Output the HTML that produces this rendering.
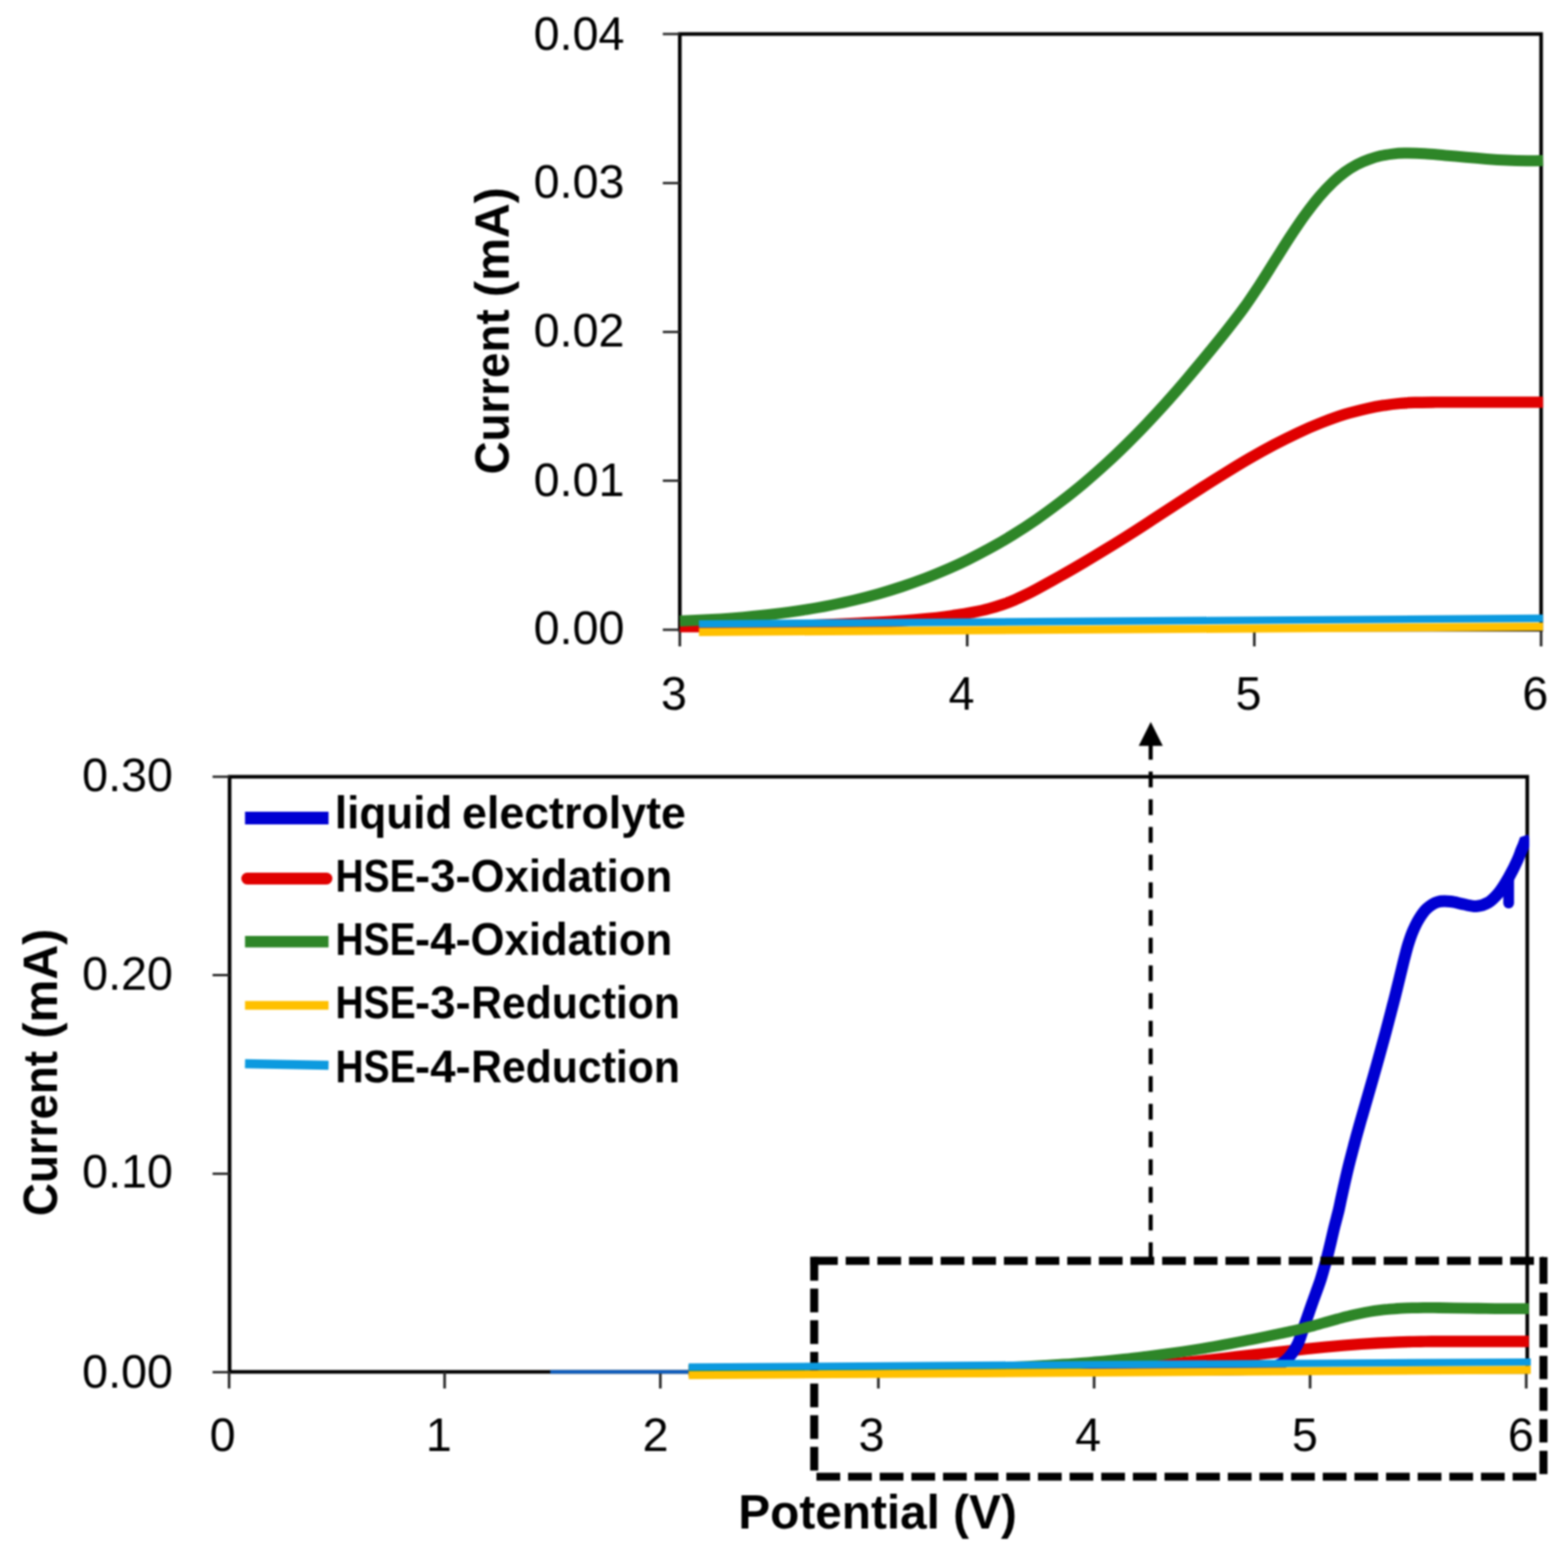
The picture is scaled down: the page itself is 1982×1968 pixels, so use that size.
<!DOCTYPE html>
<html lang="en"><head><meta charset="utf-8"><title>Linear sweep voltammetry of liquid electrolyte and HSE</title>
<style>
html,body{margin:0;padding:0;background:#fff;}
body{width:1982px;height:1968px;overflow:hidden;}
svg{display:block;}
text{font-family:"Liberation Sans",sans-serif;fill:#000;}
.n{font-size:59px;}
.b{font-size:62px;font-weight:bold;}
.l{font-size:56.5px;font-weight:bold;}
.ln{fill:none;stroke-linecap:butt;}
</style></head><body>
<svg width="1982" height="1968" viewBox="0 0 1982 1968">
<defs><filter id="soft" x="0" y="0" width="100%" height="100%" filterUnits="objectBoundingBox" color-interpolation-filters="sRGB"><feGaussianBlur stdDeviation="0.9"/></filter></defs>
<rect x="0" y="0" width="1982" height="1968" fill="#ffffff"/>
<g filter="url(#soft)">
<rect x="0" y="0" width="1982" height="1968" fill="#ffffff"/>
<g id="top">
<clipPath id="ct"><rect x="857.3" y="23.0" width="1093.3" height="813.0"/></clipPath>
<rect x="859.3" y="43.0" width="1088.7" height="753.0" fill="none" stroke="#000000" stroke-width="4.6"/>
<line x1="837.8" y1="43.0" x2="859.3" y2="43.0" stroke="#262626" stroke-width="3"/>
<line x1="837.8" y1="231.4" x2="859.3" y2="231.4" stroke="#262626" stroke-width="3"/>
<line x1="837.8" y1="419.6" x2="859.3" y2="419.6" stroke="#262626" stroke-width="3"/>
<line x1="837.8" y1="607.6" x2="859.3" y2="607.6" stroke="#262626" stroke-width="3"/>
<line x1="837.8" y1="796.0" x2="859.3" y2="796.0" stroke="#262626" stroke-width="3"/>
<line x1="859.3" y1="796.0" x2="859.3" y2="817.0" stroke="#262626" stroke-width="3.3"/>
<line x1="1222.6" y1="796.0" x2="1222.6" y2="817.0" stroke="#262626" stroke-width="3.3"/>
<line x1="1585.5" y1="796.0" x2="1585.5" y2="817.0" stroke="#262626" stroke-width="3.3"/>
<line x1="1948.0" y1="796.0" x2="1948.0" y2="817.0" stroke="#262626" stroke-width="3.3"/>
<path class="ln" d="M859.3,792.1C874.4,792.0 926.5,792.0 950.0,791.8C973.5,791.6 985.0,791.3 1000.0,791.0C1015.0,790.7 1026.7,790.3 1040.0,789.8C1053.3,789.3 1064.7,788.8 1080.0,788.0C1095.3,787.2 1114.7,786.4 1132.0,785.2C1149.3,784.0 1171.5,782.0 1184.0,780.8C1196.5,779.5 1199.3,778.9 1207.0,777.7C1214.7,776.6 1222.8,775.3 1230.0,773.9C1237.2,772.5 1243.7,771.1 1250.0,769.4C1256.3,767.7 1262.5,765.8 1268.0,763.9C1273.5,762.0 1278.2,760.2 1283.0,758.1C1287.8,756.0 1292.5,753.7 1297.0,751.5C1301.5,749.3 1302.8,748.7 1310.0,744.8C1317.2,740.9 1330.0,733.9 1340.0,728.3C1350.0,722.7 1360.0,716.9 1370.0,711.0C1380.0,705.1 1390.0,699.0 1400.0,692.9C1410.0,686.8 1420.0,680.6 1430.0,674.2C1440.0,667.9 1450.0,661.3 1460.0,654.8C1470.0,648.3 1480.0,641.8 1490.0,635.3C1500.0,628.8 1510.0,622.3 1520.0,615.9C1530.0,609.5 1540.0,603.2 1550.0,597.1C1560.0,591.0 1570.0,584.9 1580.0,579.1C1590.0,573.3 1600.0,567.7 1610.0,562.4C1620.0,557.1 1630.0,552.1 1640.0,547.4C1650.0,542.7 1660.0,538.3 1670.0,534.4C1680.0,530.5 1690.0,526.8 1700.0,523.7C1710.0,520.6 1721.7,517.8 1730.0,515.9C1738.3,514.0 1743.3,513.3 1750.0,512.3C1756.7,511.3 1763.7,510.5 1770.0,509.9C1776.3,509.3 1780.5,509.1 1788.0,508.8C1795.5,508.6 1806.3,508.5 1815.0,508.4C1823.7,508.3 1825.8,508.4 1840.0,508.4C1854.2,508.4 1881.6,508.4 1900.0,508.4C1918.4,508.4 1942.1,508.4 1950.5,508.4" stroke="#e00000" stroke-width="14.4" stroke-linejoin="round"/>
<path class="ln" d="M859.3,785.1C866.1,784.8 886.5,783.8 900.0,783.0C913.5,782.2 926.7,781.3 940.0,780.1C953.3,778.9 966.7,777.6 980.0,776.0C993.3,774.4 1008.3,772.2 1020.0,770.4C1031.7,768.6 1040.0,767.0 1050.0,765.0C1060.0,763.0 1070.0,760.9 1080.0,758.5C1090.0,756.1 1100.0,753.5 1110.0,750.7C1120.0,747.9 1130.0,744.8 1140.0,741.5C1150.0,738.2 1160.0,734.6 1170.0,730.8C1180.0,726.9 1191.2,722.2 1200.0,718.4C1208.8,714.5 1214.7,711.8 1223.0,707.7C1231.3,703.6 1240.5,698.9 1250.0,693.7C1259.5,688.5 1270.0,682.5 1280.0,676.3C1290.0,670.1 1300.0,663.6 1310.0,656.7C1320.0,649.8 1330.0,642.4 1340.0,634.8C1350.0,627.1 1360.0,619.2 1370.0,610.8C1380.0,602.4 1390.8,592.8 1400.0,584.4C1409.2,576.0 1416.7,568.7 1425.0,560.5C1433.3,552.3 1441.7,543.8 1450.0,535.0C1458.3,526.2 1466.7,517.2 1475.0,507.9C1483.3,498.6 1491.7,489.0 1500.0,479.2C1508.3,469.4 1516.7,459.4 1525.0,449.3C1533.3,439.2 1542.2,428.3 1550.0,418.4C1557.8,408.5 1565.0,399.4 1572.0,389.7C1579.0,380.0 1585.3,370.4 1592.0,360.3C1598.7,350.2 1605.5,339.0 1612.0,328.8C1618.5,318.6 1624.7,308.5 1631.0,298.9C1637.3,289.3 1643.8,279.6 1650.0,271.1C1656.2,262.6 1662.2,254.9 1668.0,248.1C1673.8,241.3 1679.7,235.2 1685.0,230.1C1690.3,225.0 1695.0,221.2 1700.0,217.5C1705.0,213.8 1710.0,210.8 1715.0,208.1C1720.0,205.4 1725.0,203.4 1730.0,201.6C1735.0,199.8 1740.0,198.2 1745.0,197.0C1750.0,195.8 1755.0,195.2 1760.0,194.6C1765.0,194.0 1768.2,193.7 1775.0,193.6C1781.8,193.5 1792.3,193.7 1801.0,194.2C1809.7,194.7 1818.3,195.7 1827.0,196.4C1835.7,197.2 1844.3,197.9 1853.0,198.7C1861.7,199.4 1870.3,200.2 1879.0,200.9C1887.7,201.6 1896.3,202.2 1905.0,202.6C1913.7,203.0 1923.4,203.2 1931.0,203.3C1938.6,203.4 1947.2,203.1 1950.5,203.0" stroke="#2e8628" stroke-width="14.0" stroke-linejoin="round"/>
<path class="ln" d="M883.5,798.9L1950.5,792.0" stroke="#ffc000" stroke-width="10.2" stroke-linejoin="round"/>
<path class="ln" d="M883.5,788.6L1950.5,781.5" stroke="#0c9adf" stroke-width="9.4" stroke-linejoin="round"/>
<text class="n" x="789.3" y="62.6" text-anchor="end">0.04</text>
<text class="n" x="789.3" y="250.4" text-anchor="end">0.03</text>
<text class="n" x="789.3" y="438.3" text-anchor="end">0.02</text>
<text class="n" x="789.3" y="626.8" text-anchor="end">0.01</text>
<text class="n" x="789.3" y="813.9" text-anchor="end">0.00</text>
<text class="n" x="852.0" y="896.8" text-anchor="middle">3</text>
<text class="n" x="1215.3" y="896.8" text-anchor="middle">4</text>
<text class="n" x="1578.2" y="896.8" text-anchor="middle">5</text>
<text class="n" x="1940.7" y="896.8" text-anchor="middle">6</text>
<text class="b" transform="translate(642.8,597.0) rotate(-90)" xml:space="preserve"><tspan x="-2.6" textLength="224.5" lengthAdjust="spacingAndGlyphs">Current </tspan><tspan x="221.6" textLength="138.8" lengthAdjust="spacingAndGlyphs">(mA)</tspan></text>
</g>
<g id="bottom">
<clipPath id="cb"><rect x="288.2" y="961.8" width="1644.9" height="812.2"/></clipPath>
<rect x="290.2" y="981.8" width="1640.3" height="752.2" fill="none" stroke="#000000" stroke-width="4.6"/>
<line x1="268.7" y1="981.8" x2="290.2" y2="981.8" stroke="#262626" stroke-width="3"/>
<line x1="268.7" y1="1232.5" x2="290.2" y2="1232.5" stroke="#262626" stroke-width="3"/>
<line x1="268.7" y1="1483.6" x2="290.2" y2="1483.6" stroke="#262626" stroke-width="3"/>
<line x1="268.7" y1="1734.4" x2="290.2" y2="1734.4" stroke="#262626" stroke-width="3"/>
<line x1="289.6" y1="1734.0" x2="289.6" y2="1755.0" stroke="#262626" stroke-width="3.3"/>
<line x1="562.0" y1="1734.0" x2="562.0" y2="1755.0" stroke="#262626" stroke-width="3.3"/>
<line x1="834.7" y1="1734.0" x2="834.7" y2="1755.0" stroke="#262626" stroke-width="3.3"/>
<line x1="1110.3" y1="1734.0" x2="1110.3" y2="1755.0" stroke="#262626" stroke-width="3.3"/>
<line x1="1383.0" y1="1734.0" x2="1383.0" y2="1755.0" stroke="#262626" stroke-width="3.3"/>
<line x1="1656.0" y1="1734.0" x2="1656.0" y2="1755.0" stroke="#262626" stroke-width="3.3"/>
<line x1="1929.2" y1="1734.0" x2="1929.2" y2="1755.0" stroke="#262626" stroke-width="3.3"/>
<line x1="695.6" y1="1734" x2="871.2" y2="1734" stroke="#0d5cbd" stroke-width="4.6"/>
<g clip-path="url(#cb)">
<path class="ln" d="M870.5,1732.8C892.1,1732.8 960.1,1732.6 1000.0,1732.7C1039.9,1732.8 1080.3,1733.2 1110.0,1733.3C1139.7,1733.4 1160.7,1733.3 1178.3,1733.2C1196.0,1733.2 1204.7,1733.2 1216.0,1733.1C1227.3,1733.1 1236.1,1733.0 1246.1,1733.0C1256.1,1732.9 1264.7,1732.8 1276.2,1732.7C1287.8,1732.6 1302.3,1732.5 1315.4,1732.4C1328.5,1732.2 1345.1,1731.9 1354.6,1731.8C1364.0,1731.6 1366.1,1731.5 1371.9,1731.4C1377.7,1731.2 1383.8,1731.0 1389.2,1730.9C1394.6,1730.7 1399.5,1730.5 1404.3,1730.3C1409.0,1730.0 1413.7,1729.8 1417.8,1729.5C1422.0,1729.3 1425.5,1729.0 1429.1,1728.8C1432.8,1728.5 1436.3,1728.2 1439.7,1727.9C1443.1,1727.6 1444.1,1727.5 1449.5,1727.0C1454.9,1726.5 1464.5,1725.5 1472.1,1724.8C1479.6,1724.0 1487.1,1723.3 1494.7,1722.5C1502.2,1721.7 1509.7,1720.9 1517.3,1720.1C1524.8,1719.2 1532.3,1718.4 1539.9,1717.6C1547.4,1716.7 1554.9,1715.9 1562.4,1715.0C1570.0,1714.1 1577.5,1713.3 1585.0,1712.4C1592.6,1711.5 1600.1,1710.7 1607.6,1709.8C1615.2,1709.0 1622.7,1708.1 1630.2,1707.3C1637.8,1706.5 1645.3,1705.7 1652.8,1704.9C1660.4,1704.1 1667.9,1703.4 1675.4,1702.7C1683.0,1702.0 1690.5,1701.3 1698.0,1700.7C1705.6,1700.1 1713.1,1699.5 1720.6,1698.9C1728.2,1698.4 1735.7,1697.9 1743.2,1697.5C1750.7,1697.1 1759.5,1696.7 1765.8,1696.5C1772.1,1696.2 1775.9,1696.1 1780.9,1696.0C1785.9,1695.9 1791.2,1695.8 1795.9,1695.7C1800.7,1695.6 1803.8,1695.6 1809.5,1695.5C1815.1,1695.5 1823.3,1695.5 1829.8,1695.5C1836.4,1695.5 1838.0,1695.5 1848.7,1695.5C1859.3,1695.5 1879.9,1695.5 1893.9,1695.5C1907.8,1695.5 1926.1,1695.5 1932.6,1695.5" stroke="#e00000" stroke-width="14.4" stroke-linejoin="round"/>
<path class="ln" d="M1100.0,1732.0C1150.0,1731.9 1326.7,1731.7 1400.0,1731.5C1473.3,1731.3 1509.2,1731.2 1540.0,1731.0C1570.8,1730.8 1574.5,1730.7 1585.0,1730.3C1595.5,1729.9 1598.0,1729.5 1603.0,1728.8C1608.0,1728.0 1611.4,1727.2 1615.0,1725.8C1618.6,1724.4 1621.5,1722.8 1624.5,1720.3C1627.5,1717.8 1630.5,1714.4 1633.2,1710.7C1635.9,1707.0 1638.5,1703.0 1640.7,1698.2C1642.9,1693.4 1644.5,1687.5 1646.5,1682.0C1648.5,1676.5 1650.3,1671.2 1652.5,1665.0C1654.7,1658.8 1656.8,1652.5 1659.5,1645.0C1662.2,1637.5 1666.2,1626.7 1668.5,1620.0C1670.8,1613.3 1671.5,1610.0 1673.0,1605.0C1674.5,1600.0 1675.8,1595.8 1677.3,1590.0C1678.8,1584.2 1680.6,1576.7 1682.2,1570.0C1683.8,1563.3 1685.2,1556.7 1686.9,1550.0C1688.6,1543.3 1690.6,1536.0 1692.1,1529.9C1693.5,1523.8 1694.4,1519.0 1695.6,1513.6C1696.8,1508.2 1698.0,1502.8 1699.2,1497.4C1700.4,1492.0 1701.6,1486.6 1702.9,1481.2C1704.2,1475.8 1705.5,1470.4 1706.9,1465.1C1708.3,1459.8 1709.7,1454.4 1711.1,1449.1C1712.5,1443.8 1713.9,1438.3 1715.4,1433.0C1716.9,1427.7 1718.4,1422.3 1719.9,1417.0C1721.4,1411.7 1723.0,1406.4 1724.5,1401.1C1726.0,1395.8 1727.6,1390.4 1729.1,1385.1C1730.6,1379.8 1732.2,1374.5 1733.7,1369.2C1735.2,1363.9 1736.7,1358.5 1738.2,1353.2C1739.7,1347.9 1741.2,1342.5 1742.7,1337.2C1744.2,1331.9 1745.6,1326.5 1747.1,1321.2C1748.6,1315.9 1750.1,1310.6 1751.5,1305.2C1752.9,1299.8 1754.3,1294.5 1755.7,1289.1C1757.1,1283.7 1758.5,1278.4 1759.9,1273.0C1761.3,1267.6 1762.7,1262.3 1764.0,1256.9C1765.3,1251.5 1766.7,1246.2 1768.0,1240.8C1769.3,1235.4 1770.6,1230.1 1771.9,1224.7C1773.2,1219.3 1774.5,1213.9 1775.9,1208.6C1777.3,1203.2 1778.6,1197.9 1780.3,1192.6C1782.0,1187.3 1783.7,1182.1 1785.9,1177.0C1788.1,1171.9 1790.4,1166.8 1793.3,1162.1C1796.2,1157.4 1799.2,1152.5 1803.2,1148.8C1807.2,1145.1 1812.0,1141.6 1817.1,1140.1C1822.2,1138.5 1828.1,1139.0 1833.6,1139.5C1839.0,1140.0 1844.4,1141.9 1849.8,1142.9C1855.2,1143.9 1860.9,1145.9 1866.2,1145.5C1871.5,1145.1 1877.2,1143.2 1881.8,1140.5C1886.4,1137.8 1890.3,1133.4 1893.9,1129.2C1897.5,1125.0 1900.4,1120.2 1903.3,1115.5C1906.2,1110.8 1908.9,1105.9 1911.4,1101.0C1914.0,1096.1 1916.8,1090.0 1918.6,1086.1C1920.4,1082.2 1920.9,1080.3 1922.0,1077.5C1923.1,1074.7 1924.8,1070.8 1925.3,1069.5" stroke="#0000d2" stroke-width="15.0" stroke-linejoin="round"/>
<path class="ln" d="M1922.0,1077.5L1925.3,1069.5L1927.2,1064.2L1934.0,1062.0" stroke="#0000d2" stroke-width="15.0" stroke-linejoin="miter"/>
<line x1="1907" y1="1110" x2="1907" y2="1141.4" stroke="#0000d2" stroke-width="13.6" stroke-linecap="round"/>
<path class="ln" d="M870.5,1731.9C892.1,1731.9 960.1,1731.8 1000.0,1731.8C1039.9,1731.8 1086.6,1731.8 1110.0,1731.7C1133.4,1731.7 1130.5,1731.6 1140.7,1731.5C1150.8,1731.4 1160.7,1731.2 1170.8,1731.1C1180.8,1730.9 1190.9,1730.8 1200.9,1730.5C1211.0,1730.3 1222.3,1730.0 1231.0,1729.8C1239.8,1729.5 1246.1,1729.3 1253.6,1729.1C1261.2,1728.8 1268.7,1728.5 1276.2,1728.2C1283.8,1727.9 1291.3,1727.5 1298.8,1727.2C1306.4,1726.8 1313.9,1726.4 1321.4,1725.9C1329.0,1725.5 1336.5,1725.0 1344.0,1724.5C1351.6,1724.0 1360.0,1723.4 1366.6,1722.9C1373.3,1722.3 1377.7,1722.0 1383.9,1721.4C1390.2,1720.9 1397.1,1720.3 1404.3,1719.6C1411.4,1718.9 1419.3,1718.1 1426.9,1717.3C1434.4,1716.4 1441.9,1715.6 1449.5,1714.6C1457.0,1713.7 1464.5,1712.7 1472.1,1711.7C1479.6,1710.7 1487.1,1709.6 1494.7,1708.5C1502.2,1707.4 1510.4,1706.1 1517.3,1705.0C1524.2,1703.9 1529.8,1702.9 1536.1,1701.8C1542.4,1700.7 1548.6,1699.6 1554.9,1698.4C1561.2,1697.3 1567.5,1696.1 1573.7,1694.8C1580.0,1693.6 1586.3,1692.3 1592.6,1691.0C1598.9,1689.7 1605.1,1688.4 1611.4,1687.0C1617.7,1685.7 1624.3,1684.2 1630.2,1682.9C1636.1,1681.6 1641.5,1680.4 1646.8,1679.1C1652.1,1677.8 1656.8,1676.5 1661.9,1675.2C1666.9,1673.8 1672.0,1672.3 1676.9,1671.0C1681.8,1669.6 1686.5,1668.3 1691.2,1667.0C1696.0,1665.7 1700.9,1664.4 1705.6,1663.3C1710.2,1662.1 1714.7,1661.1 1719.1,1660.2C1723.5,1659.3 1727.9,1658.5 1731.9,1657.8C1735.9,1657.1 1739.4,1656.6 1743.2,1656.1C1747.0,1655.6 1750.7,1655.2 1754.5,1654.9C1758.3,1654.5 1762.0,1654.3 1765.8,1654.0C1769.6,1653.8 1773.3,1653.6 1777.1,1653.4C1780.9,1653.2 1784.6,1653.2 1788.4,1653.1C1792.2,1653.0 1794.6,1653.0 1799.7,1652.9C1804.9,1652.9 1812.8,1653.0 1819.3,1653.0C1825.8,1653.1 1832.3,1653.2 1838.9,1653.3C1845.4,1653.4 1851.9,1653.5 1858.5,1653.6C1865.0,1653.7 1871.5,1653.8 1878.0,1653.9C1884.6,1654.0 1891.1,1654.1 1897.6,1654.1C1904.1,1654.2 1911.4,1654.2 1917.2,1654.2C1923.0,1654.2 1930.0,1654.2 1932.6,1654.2" stroke="#2e8628" stroke-width="13.8" stroke-linejoin="round"/>
</g>
<g stroke="#000" stroke-width="10.2" fill="none">
<path d="M1029,1593.7H1951" stroke-dasharray="30 10"/>
<path d="M1024.2,1593.7H1030"/>
<path d="M1951,1588.9V1622.8"/>
<path d="M1951,1633.7V1866" stroke-dasharray="29.6 10.4"/>
<path d="M1032,1866.5H1945" stroke-dasharray="30 10"/>
<path d="M1029.2,1588.7V1860" stroke-dasharray="30 10"/>
</g>
<line x1="1454.5" y1="1590.3" x2="1454.5" y2="940" stroke="#000" stroke-width="5.2" stroke-dasharray="20 15"/>
<path d="M1454.6,912.5L1469.8,942.8L1439.4,942.8Z" fill="#000"/>
<path class="ln" d="M870.5,1738.2L1935.0,1731.4" stroke="#ffc000" stroke-width="10.1" stroke-linejoin="round"/>
<path class="ln" d="M870.5,1727.9L1935.0,1721.5" stroke="#0c9adf" stroke-width="9.2" stroke-linejoin="round"/>
<text class="n" x="218.7" y="999.8" text-anchor="end">0.30</text>
<text class="n" x="218.7" y="1250.5" text-anchor="end">0.20</text>
<text class="n" x="218.7" y="1500.6" text-anchor="end">0.10</text>
<text class="n" x="218.7" y="1753.7" text-anchor="end">0.00</text>
<text class="n" x="281.3" y="1834" text-anchor="middle">0</text>
<text class="n" x="554.6" y="1834" text-anchor="middle">1</text>
<text class="n" x="828.7" y="1834" text-anchor="middle">2</text>
<text class="n" x="1101.6" y="1834" text-anchor="middle">3</text>
<text class="n" x="1375.5" y="1834" text-anchor="middle">4</text>
<text class="n" x="1649.3" y="1834" text-anchor="middle">5</text>
<text class="n" x="1922.4" y="1834" text-anchor="middle">6</text>
<text class="b" transform="translate(72.3,1534.3) rotate(-90)" xml:space="preserve"><tspan x="-2.6" textLength="224.5" lengthAdjust="spacingAndGlyphs">Current </tspan><tspan x="221.6" textLength="138.8" lengthAdjust="spacingAndGlyphs">(mA)</tspan></text>
<text class="b" x="933.3" y="1931.6" textLength="352" lengthAdjust="spacingAndGlyphs">Potential (V)</text>
<line x1="309.7" y1="1034.1" x2="415.3" y2="1034.1" stroke="#0000d2" stroke-width="16.0" stroke-linecap="butt"/>
<text class="l" y="1046.6" xml:space="preserve"><tspan x="423.3" textLength="164.0" lengthAdjust="spacingAndGlyphs">liquid </tspan><tspan x="584.0" textLength="283.0" lengthAdjust="spacingAndGlyphs">electrolyte</tspan></text>
<line x1="312.5" y1="1110.5" x2="412.7" y2="1110.5" stroke="#e00000" stroke-width="15.0" stroke-linecap="round"/>
<text class="l" y="1126.9" xml:space="preserve"><tspan x="423.9" textLength="101.5" lengthAdjust="spacingAndGlyphs">HSE</tspan><tspan x="524.5" textLength="70.5" lengthAdjust="spacingAndGlyphs">-3-</tspan><tspan x="594.7" textLength="255.0" lengthAdjust="spacingAndGlyphs">Oxidation</tspan></text>
<line x1="309.7" y1="1190.3" x2="415.3" y2="1190.3" stroke="#2e8628" stroke-width="14.5" stroke-linecap="butt"/>
<text class="l" y="1207.1" xml:space="preserve"><tspan x="423.9" textLength="101.5" lengthAdjust="spacingAndGlyphs">HSE</tspan><tspan x="524.5" textLength="70.5" lengthAdjust="spacingAndGlyphs">-4-</tspan><tspan x="594.7" textLength="255.0" lengthAdjust="spacingAndGlyphs">Oxidation</tspan></text>
<line x1="309.7" y1="1270.7" x2="415.3" y2="1270.7" stroke="#ffc000" stroke-width="11.0" stroke-linecap="butt"/>
<text class="l" y="1287.3" xml:space="preserve"><tspan x="423.9" textLength="101.5" lengthAdjust="spacingAndGlyphs">HSE</tspan><tspan x="524.5" textLength="70.5" lengthAdjust="spacingAndGlyphs">-3-</tspan><tspan x="595.6" textLength="264.0" lengthAdjust="spacingAndGlyphs">Reduction</tspan></text>
<line x1="309.7" y1="1344.6" x2="415.3" y2="1346.6" stroke="#0c9adf" stroke-width="11.5" stroke-linecap="butt"/>
<text class="l" y="1367.6" xml:space="preserve"><tspan x="423.9" textLength="101.5" lengthAdjust="spacingAndGlyphs">HSE</tspan><tspan x="524.5" textLength="70.5" lengthAdjust="spacingAndGlyphs">-4-</tspan><tspan x="595.6" textLength="264.0" lengthAdjust="spacingAndGlyphs">Reduction</tspan></text>
</g>
</g>
</svg>
</body></html>
